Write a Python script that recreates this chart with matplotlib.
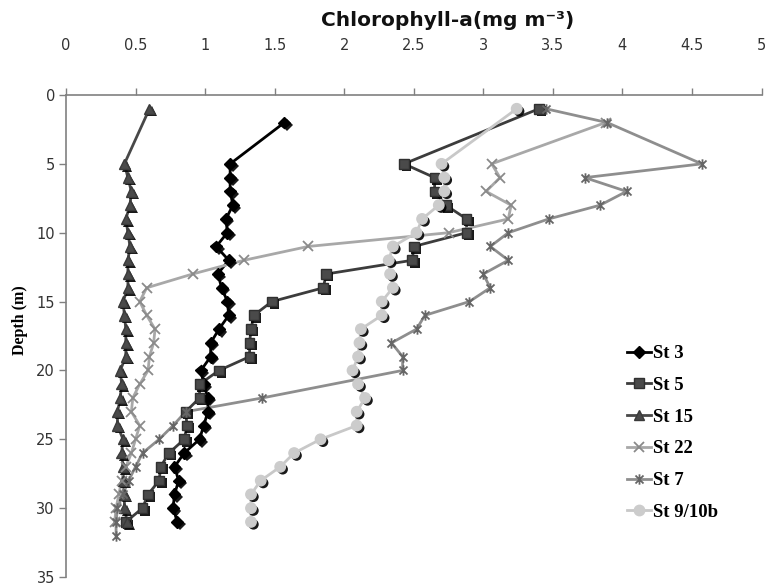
import matplotlib
matplotlib.use("Agg")
import matplotlib.pyplot as plt
from matplotlib.path import Path
import matplotlib.patheffects as pe

# ---------------- data ----------------
st3_depth = [2, 5, 6, 7, 8, 9, 10, 11, 12, 13, 14, 15, 16, 17, 18, 19, 20, 21, 22, 23, 24, 25, 26, 27, 28, 29, 30, 31]
st3_chl = [1.57, 1.18, 1.18, 1.18, 1.20, 1.15, 1.16, 1.08, 1.17, 1.09, 1.12, 1.16, 1.17, 1.10, 1.04, 1.04,
           0.97, 0.99, 1.02, 1.02, 0.99, 0.96, 0.85, 0.78, 0.81, 0.78, 0.77, 0.80]

st5_depth = [1, 5, 6, 7, 8, 9, 10, 11, 12, 13, 14, 15, 16, 17, 18, 19, 20, 21, 22, 23, 24, 25, 26, 27, 28, 29, 30, 31]
st5_chl = [3.40, 2.43, 2.65, 2.65, 2.73, 2.88, 2.88, 2.50, 2.49, 1.87, 1.85, 1.48, 1.35, 1.33, 1.32, 1.32,
           1.10, 0.96, 0.96, 0.86, 0.87, 0.85, 0.74, 0.68, 0.67, 0.59, 0.55, 0.43]

st15_depth = [1, 5, 6, 7, 8, 9, 10, 11, 12, 13, 14, 15, 16, 17, 18, 19, 20, 21, 22, 23, 24, 25, 26, 27, 28, 29, 30, 31]
st15_chl = [0.60, 0.42, 0.445, 0.47, 0.46, 0.43, 0.445, 0.46, 0.445, 0.445, 0.445, 0.41, 0.42, 0.43, 0.43, 0.43,
            0.39, 0.40, 0.39, 0.37, 0.37, 0.41, 0.40, 0.41, 0.41, 0.42, 0.42, 0.44]

st22_depth = [2, 5, 6, 7, 8, 9, 10, 11, 12, 13, 14, 15, 16, 17, 18, 19, 20, 21, 22, 23, 24, 25, 26, 27, 28, 29, 30, 31]
st22_chl = [3.88, 3.06, 3.12, 3.02, 3.20, 3.18, 2.75, 1.74, 1.28, 0.91, 0.58, 0.53, 0.58, 0.64, 0.63, 0.60,
            0.59, 0.53, 0.48, 0.47, 0.53, 0.50, 0.47, 0.43, 0.40, 0.38, 0.36, 0.35]

st7_depth = [1, 2, 5, 6, 7, 8, 9, 10, 11, 12, 13, 14, 15, 16, 17, 18, 19, 20, 22, 23, 24, 25, 26, 27, 28, 29, 30, 31, 32]
st7_chl = [3.45, 3.89, 4.57, 3.73, 4.03, 3.84, 3.47, 3.18, 3.05, 3.18, 3.00, 3.05, 2.90, 2.58, 2.52, 2.34,
           2.42, 2.42, 1.41, 0.86, 0.77, 0.67, 0.55, 0.50, 0.45, 0.41, 0.37, 0.36, 0.36]

st910_depth = [1, 5, 6, 7, 8, 9, 10, 11, 12, 13, 14, 15, 16, 17, 18, 19, 20, 21, 22, 23, 24, 25, 26, 27, 28, 29, 30, 31]
st910_chl = [3.24, 2.70, 2.72, 2.72, 2.68, 2.56, 2.52, 2.35, 2.32, 2.33, 2.35, 2.27, 2.27, 2.12, 2.11, 2.10,
             2.06, 2.10, 2.15, 2.09, 2.09, 1.83, 1.64, 1.54, 1.40, 1.33, 1.33, 1.33]

x_ticks = [0, 0.5, 1, 1.5, 2, 2.5, 3, 3.5, 4, 4.5, 5]
y_ticks = [0, 5, 10, 15, 20, 25, 30, 35]
labels = ["St 3", "St 5", "St 15", "St 22", "St 7", "St 9/10b"]
title_text = "Chlorophyll-a(mg m\u207b\u00b3)"
ylabel_text = "Depth (m)"

# ---------------- figure ----------------
fig = plt.figure(figsize=(7.65, 5.88), dpi=100)
L, R, T, B = 66 / 765, 761.5 / 765, 1 - 95 / 588, 1 - 577 / 588
ax = fig.add_axes([L, B, R - L, T - B])

star = Path([(-1, -1), (1, 1), (-1, 1), (1, -1), (0, -1.3), (0, 1.3)],
            [Path.MOVETO, Path.LINETO, Path.MOVETO, Path.LINETO, Path.MOVETO, Path.LINETO])

shadow = [pe.SimplePatchShadow(offset=(1.8, -1.8), shadow_rgbFace="black", alpha=0.9), pe.Normal()]

series = [
    (st3_chl, st3_depth, dict(color="#000000", marker="D", ms=6.0, mfc="#000000", mec="#000000", lw=2.0)),
    (st5_chl, st5_depth, dict(color="#3c3c3c", marker="s", ms=7.0, mfc="#4a4a4a", mec="#303030", lw=2.0)),
    (st15_chl, st15_depth, dict(color="#484848", marker="^", ms=7.5, mfc="#4a4a4a", mec="#3a3a3a", lw=2.0)),
    (st22_chl, st22_depth, dict(color="#a8a8a8", marker="x", ms=7.5, mfc="none", mec="#8a8a8a", mew=1.3, lw=2.0)),
    (st7_chl, st7_depth, dict(color="#8e8e8e", marker=star, ms=7.5, mfc="none", mec="#666666", mew=1.3, lw=2.0)),
    (st910_chl, st910_depth, dict(color="#c8c8c8", marker="o", ms=7.5, mfc="#cccccc", mec="#cccccc", lw=2.0)),
]

handles = []
for (xs, ys, st), lab in zip(series, labels):
    line, = ax.plot(xs, ys, color=st["color"], lw=st["lw"], zorder=2)
    kw = dict(linestyle="none", marker=st["marker"], ms=st["ms"], mfc=st["mfc"], mec=st["mec"],
              mew=st.get("mew", 1.0), zorder=3)
    mk, = ax.plot(xs, ys, **kw)
    if st["mfc"] != "none":
        mk.set_path_effects(shadow)
    h, = ax.plot([], [], color=st["color"], lw=st["lw"],
                 **{k: v for k, v in kw.items() if k not in ("linestyle", "zorder")})
    handles.append(h)

ax.set_xlim(0, 5)
ax.set_ylim(35, 0)
ax.set_xticks(x_ticks)
ax.set_xticklabels([f"{v:g}" for v in x_ticks])
ax.set_yticks(y_ticks)

ax.xaxis.tick_top()
for s in ["right", "bottom"]:
    ax.spines[s].set_visible(False)
for s in ["top", "left"]:
    ax.spines[s].set_color("#808080")
    ax.spines[s].set_linewidth(1.2)

ax.tick_params(axis="x", which="both", direction="out", length=5, width=1.0, color="#808080",
               labelsize=10.5, labelcolor="#333333", pad=25)
ax.tick_params(axis="y", which="both", direction="out", length=5, width=1.0, color="#808080",
               labelsize=10.5, labelcolor="#333333", pad=3)

fig.text(448 / 765, 1 - 20 / 588, title_text, ha="center", va="center", fontsize=14.5,
         fontweight="bold", family="DejaVu Sans", color="#111111")
fig.text(20 / 765, 1 - 320 / 588, ylabel_text, ha="center", va="center", rotation=90,
         fontsize=11.5, fontweight="bold", family="Liberation Serif", color="#000000")

leg = ax.legend(handles, labels, loc="upper left", bbox_to_anchor=(627 / 765, 1 - 345 / 588),
                bbox_transform=fig.transFigure, frameon=False, handlelength=1.3, handletextpad=0.1,
                labelspacing=0.78, borderpad=0, borderaxespad=0,
                prop={"family": "Liberation Serif", "weight": "bold", "size": 13.5})

fig.savefig("out.png", dpi=100)
